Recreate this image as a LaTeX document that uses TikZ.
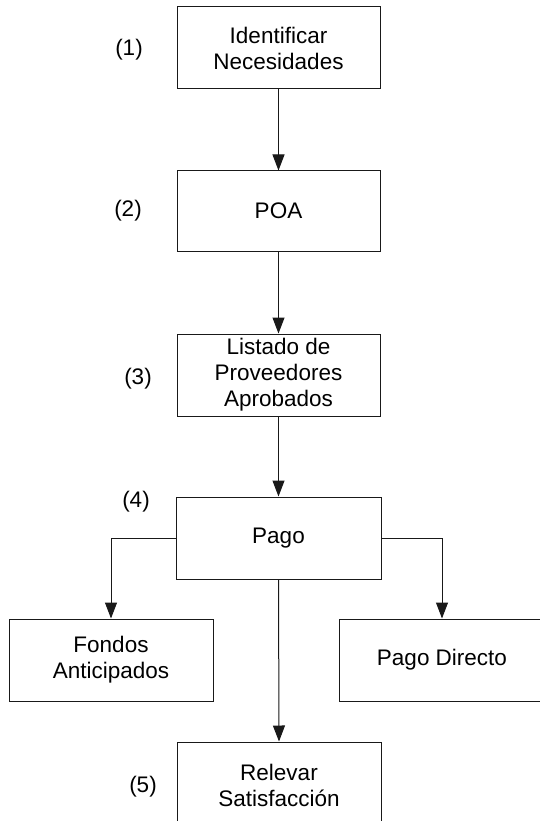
\documentclass[tikz,border=0pt]{standalone}
\usepackage{fontspec}
\setmainfont{Liberation Sans}
\usetikzlibrary{arrows.meta}
\begin{document}
\begin{tikzpicture}[x=1pt,y=-1pt,
  box/.style={draw=black!90, line width=1pt, inner sep=0pt, align=center,
    font=\fontsize{22.5}{26}\selectfont},
  lbl/.style={inner sep=0pt, font=\fontsize{22.5}{26}\selectfont},
  conn/.style={draw=black!90, line width=1pt, -{Triangle[length=16pt,width=12pt]}}]
\useasboundingbox (0,0) rectangle (540,821);
\node[box, minimum width=203pt, minimum height=82pt] (n1) at (278.5,48) {Identificar\\Necesidades};
\node[box, minimum width=203pt, minimum height=80pt] (n2) at (278.5,211) {POA};
\node[box, minimum width=203pt, minimum height=82pt] (n3) at (278.5,375) {Listado de\\Proveedores\\Aprobados};
\node[box, minimum width=205pt, minimum height=82pt] (n4) at (278.5,538) {Pago};
\node[box, minimum width=204pt, minimum height=82pt] (fa) at (111,660) {Fondos\\Anticipados};
\node[box, minimum width=206pt, minimum height=82pt] (pd) at (442,660) {Pago Directo};
\node[box, minimum width=204pt, minimum height=86pt] (n5) at (279,785) {Relevar\\Satisfacción};
\node[lbl] (l1) at (129,50) {(1)};
\node[lbl] (l2) at (128,211) {(2)};
\node[lbl] (l3) at (138,379) {(3)};
\node[lbl] (l4) at (136,502) {(4)};
\node[lbl] (l5) at (143,787) {(5)};
\draw[conn] (n1.south) -- (n2.north);
\draw[conn] (n2.south) -- (n3.north);
\draw[conn] (n3.south) -- (n4.north);
\draw[conn] (n4.west) -| (fa.north);
\draw[conn] (n4.east) -| (pd.north);
\draw[conn] (n4.south) -- (n5.north);
\end{tikzpicture}
\end{document}
